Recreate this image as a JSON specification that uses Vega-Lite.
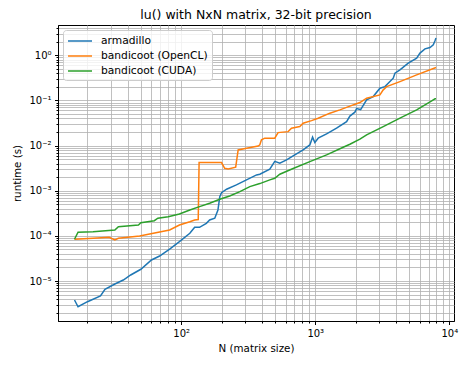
{
  "$schema": "https://vega.github.io/schema/vega-lite/v6.json",
  "autosize": "none",
  "width": 396,
  "height": 296,
  "padding": {"left": 58, "top": 25, "right": 12, "bottom": 44},
  "config": {
    "font": "DejaVu Sans",
    "view": {"stroke": "black", "strokeWidth": 1},
    "axis": {
      "domainColor": "black",
      "tickColor": "black",
      "labelColor": "black",
      "titleColor": "black",
      "labelFont": "DejaVu Sans",
      "titleFont": "DejaVu Sans",
      "labelFontSize": 10,
      "titleFontSize": 10.3,
      "titleFontWeight": "normal",
      "gridColor": "#b0b0b0",
      "gridWidth": 0.8,
      "gridOpacity": 1,
      "labelPadding": 3.5
    }
  },
  "title": {"text": "lu() with NxN matrix, 32-bit precision", "fontSize": 12.5, "fontWeight": "normal", "font": "DejaVu Sans", "color": "black", "offset": 2},
  "data": {"values": [
    {"s": "armadillo", "N": 16, "t": 3.79e-6},
    {"s": "armadillo", "N": 17, "t": 2.69e-6},
    {"s": "armadillo", "N": 20, "t": 3.48e-6},
    {"s": "armadillo", "N": 25, "t": 4.65e-6},
    {"s": "armadillo", "N": 27, "t": 6.55e-6},
    {"s": "armadillo", "N": 32, "t": 8.58e-6},
    {"s": "armadillo", "N": 37, "t": 1.05e-5},
    {"s": "armadillo", "N": 42, "t": 1.36e-5},
    {"s": "armadillo", "N": 50, "t": 1.82e-5},
    {"s": "armadillo", "N": 60, "t": 2.92e-5},
    {"s": "armadillo", "N": 69, "t": 3.58e-5},
    {"s": "armadillo", "N": 82, "t": 5.1e-5},
    {"s": "armadillo", "N": 97, "t": 7.44e-5},
    {"s": "armadillo", "N": 116, "t": 1.14e-4},
    {"s": "armadillo", "N": 126, "t": 1.55e-4},
    {"s": "armadillo", "N": 137, "t": 1.55e-4},
    {"s": "armadillo", "N": 154, "t": 1.9e-4},
    {"s": "armadillo", "N": 163, "t": 2.25e-4},
    {"s": "armadillo", "N": 178, "t": 2.46e-4},
    {"s": "armadillo", "N": 188, "t": 3.75e-4},
    {"s": "armadillo", "N": 194, "t": 7.4e-4},
    {"s": "armadillo", "N": 200, "t": 9.07e-4},
    {"s": "armadillo", "N": 218, "t": 1.08e-3},
    {"s": "armadillo", "N": 258, "t": 1.344e-3},
    {"s": "armadillo", "N": 307, "t": 1.74e-3},
    {"s": "armadillo", "N": 365, "t": 2.24e-3},
    {"s": "armadillo", "N": 386, "t": 2.32e-3},
    {"s": "armadillo", "N": 458, "t": 3.0e-3},
    {"s": "armadillo", "N": 499, "t": 4.48e-3},
    {"s": "armadillo", "N": 544, "t": 4.07e-3},
    {"s": "armadillo", "N": 611, "t": 4.82e-3},
    {"s": "armadillo", "N": 684, "t": 5.91e-3},
    {"s": "armadillo", "N": 812, "t": 8.03e-3},
    {"s": "armadillo", "N": 911, "t": 1.036e-2},
    {"s": "armadillo", "N": 955, "t": 1.536e-2},
    {"s": "armadillo", "N": 993, "t": 1.166e-2},
    {"s": "armadillo", "N": 1051, "t": 1.459e-2},
    {"s": "armadillo", "N": 1215, "t": 1.817e-2},
    {"s": "armadillo", "N": 1442, "t": 2.43e-2},
    {"s": "armadillo", "N": 1713, "t": 3.4e-2},
    {"s": "armadillo", "N": 1813, "t": 4.5e-2},
    {"s": "armadillo", "N": 1976, "t": 5.5e-2},
    {"s": "armadillo", "N": 2034, "t": 6.6e-2},
    {"s": "armadillo", "N": 2180, "t": 6.3e-2},
    {"s": "armadillo", "N": 2416, "t": 0.103},
    {"s": "armadillo", "N": 2706, "t": 0.122},
    {"s": "armadillo", "N": 3037, "t": 0.187},
    {"s": "armadillo", "N": 3310, "t": 0.203},
    {"s": "armadillo", "N": 3817, "t": 0.312},
    {"s": "armadillo", "N": 3931, "t": 0.403},
    {"s": "armadillo", "N": 4283, "t": 0.477},
    {"s": "armadillo", "N": 4940, "t": 0.672},
    {"s": "armadillo", "N": 5709, "t": 0.867},
    {"s": "armadillo", "N": 6042, "t": 1.12},
    {"s": "armadillo", "N": 6585, "t": 1.39},
    {"s": "armadillo", "N": 7178, "t": 1.49},
    {"s": "armadillo", "N": 7595, "t": 1.71},
    {"s": "armadillo", "N": 7820, "t": 2.1},
    {"s": "armadillo", "N": 7957, "t": 2.41},

    {"s": "bandicoot (OpenCL)", "N": 16, "t": 8.41e-5},
    {"s": "bandicoot (OpenCL)", "N": 22, "t": 8.85e-5},
    {"s": "bandicoot (OpenCL)", "N": 29, "t": 9.31e-5},
    {"s": "bandicoot (OpenCL)", "N": 32, "t": 8.11e-5},
    {"s": "bandicoot (OpenCL)", "N": 34, "t": 8.85e-5},
    {"s": "bandicoot (OpenCL)", "N": 49, "t": 9.95e-5},
    {"s": "bandicoot (OpenCL)", "N": 62, "t": 1.142e-4},
    {"s": "bandicoot (OpenCL)", "N": 82, "t": 1.351e-4},
    {"s": "bandicoot (OpenCL)", "N": 97, "t": 1.744e-4},
    {"s": "bandicoot (OpenCL)", "N": 116, "t": 2.06e-4},
    {"s": "bandicoot (OpenCL)", "N": 126, "t": 2.25e-4},
    {"s": "bandicoot (OpenCL)", "N": 134, "t": 2.3e-4},
    {"s": "bandicoot (OpenCL)", "N": 136, "t": 4.2e-3},
    {"s": "bandicoot (OpenCL)", "N": 200, "t": 4.2e-3},
    {"s": "bandicoot (OpenCL)", "N": 211, "t": 3.15e-3},
    {"s": "bandicoot (OpenCL)", "N": 224, "t": 3.04e-3},
    {"s": "bandicoot (OpenCL)", "N": 255, "t": 3.32e-3},
    {"s": "bandicoot (OpenCL)", "N": 266, "t": 8.03e-3},
    {"s": "bandicoot (OpenCL)", "N": 307, "t": 8.76e-3},
    {"s": "bandicoot (OpenCL)", "N": 375, "t": 9.8e-3},
    {"s": "bandicoot (OpenCL)", "N": 386, "t": 1.04e-2},
    {"s": "bandicoot (OpenCL)", "N": 397, "t": 1.34e-2},
    {"s": "bandicoot (OpenCL)", "N": 420, "t": 1.46e-2},
    {"s": "bandicoot (OpenCL)", "N": 499, "t": 1.46e-2},
    {"s": "bandicoot (OpenCL)", "N": 528, "t": 1.94e-2},
    {"s": "bandicoot (OpenCL)", "N": 628, "t": 2.04e-2},
    {"s": "bandicoot (OpenCL)", "N": 665, "t": 2.43e-2},
    {"s": "bandicoot (OpenCL)", "N": 767, "t": 2.64e-2},
    {"s": "bandicoot (OpenCL)", "N": 812, "t": 3.14e-2},
    {"s": "bandicoot (OpenCL)", "N": 938, "t": 3.58e-2},
    {"s": "bandicoot (OpenCL)", "N": 1051, "t": 4.05e-2},
    {"s": "bandicoot (OpenCL)", "N": 1285, "t": 5.23e-2},
    {"s": "bandicoot (OpenCL)", "N": 1526, "t": 6.19e-2},
    {"s": "bandicoot (OpenCL)", "N": 1813, "t": 7.5e-2},
    {"s": "bandicoot (OpenCL)", "N": 2153, "t": 8.98e-2},
    {"s": "bandicoot (OpenCL)", "N": 2416, "t": 0.1125},
    {"s": "bandicoot (OpenCL)", "N": 3037, "t": 0.133},
    {"s": "bandicoot (OpenCL)", "N": 3215, "t": 0.172},
    {"s": "bandicoot (OpenCL)", "N": 3409, "t": 0.203},
    {"s": "bandicoot (OpenCL)", "N": 4283, "t": 0.262},
    {"s": "bandicoot (OpenCL)", "N": 5709, "t": 0.369},
    {"s": "bandicoot (OpenCL)", "N": 7957, "t": 0.536},

    {"s": "bandicoot (CUDA)", "N": 16, "t": 8.41e-5},
    {"s": "bandicoot (CUDA)", "N": 17, "t": 1.202e-4},
    {"s": "bandicoot (CUDA)", "N": 22, "t": 1.239e-4},
    {"s": "bandicoot (CUDA)", "N": 32, "t": 1.351e-4},
    {"s": "bandicoot (CUDA)", "N": 34, "t": 1.6e-4},
    {"s": "bandicoot (CUDA)", "N": 48, "t": 1.744e-4},
    {"s": "bandicoot (CUDA)", "N": 50, "t": 1.96e-4},
    {"s": "bandicoot (CUDA)", "N": 63, "t": 2.17e-4},
    {"s": "bandicoot (CUDA)", "N": 67, "t": 2.46e-4},
    {"s": "bandicoot (CUDA)", "N": 80, "t": 2.66e-4},
    {"s": "bandicoot (CUDA)", "N": 97, "t": 3.06e-4},
    {"s": "bandicoot (CUDA)", "N": 116, "t": 3.75e-4},
    {"s": "bandicoot (CUDA)", "N": 137, "t": 4.44e-4},
    {"s": "bandicoot (CUDA)", "N": 163, "t": 5.28e-4},
    {"s": "bandicoot (CUDA)", "N": 194, "t": 6.48e-4},
    {"s": "bandicoot (CUDA)", "N": 230, "t": 7.67e-4},
    {"s": "bandicoot (CUDA)", "N": 274, "t": 9.55e-4},
    {"s": "bandicoot (CUDA)", "N": 325, "t": 1.233e-3},
    {"s": "bandicoot (CUDA)", "N": 386, "t": 1.44e-3},
    {"s": "bandicoot (CUDA)", "N": 458, "t": 1.74e-3},
    {"s": "bandicoot (CUDA)", "N": 499, "t": 1.89e-3},
    {"s": "bandicoot (CUDA)", "N": 544, "t": 2.32e-3},
    {"s": "bandicoot (CUDA)", "N": 684, "t": 3.1e-3},
    {"s": "bandicoot (CUDA)", "N": 911, "t": 4.42e-3},
    {"s": "bandicoot (CUDA)", "N": 1215, "t": 6.22e-3},
    {"s": "bandicoot (CUDA)", "N": 1616, "t": 9.2e-3},
    {"s": "bandicoot (CUDA)", "N": 1813, "t": 1.07e-2},
    {"s": "bandicoot (CUDA)", "N": 2153, "t": 1.387e-2},
    {"s": "bandicoot (CUDA)", "N": 2416, "t": 1.727e-2},
    {"s": "bandicoot (CUDA)", "N": 3215, "t": 2.64e-2},
    {"s": "bandicoot (CUDA)", "N": 4283, "t": 4.05e-2},
    {"s": "bandicoot (CUDA)", "N": 5709, "t": 6.19e-2},
    {"s": "bandicoot (CUDA)", "N": 7390, "t": 9.8e-2},
    {"s": "bandicoot (CUDA)", "N": 7820, "t": 0.1085},
    {"s": "bandicoot (CUDA)", "N": 7957, "t": 0.1085}
  ]},
  "mark": {"type": "line", "strokeWidth": 1.5, "clip": true},
  "encoding": {
    "x": {
      "field": "N", "type": "quantitative", "title": "N (matrix size)",
      "scale": {"type": "log", "domain": [12.05, 10840], "nice": false, "zero": false},
      "axis": {
        "values": [20,30,40,50,60,70,80,90,100,200,300,400,500,600,700,800,900,1000,2000,3000,4000,5000,6000,7000,8000,9000,10000],
        "labelExpr": "datum.value == 100 ? '10²' : datum.value == 1000 ? '10³' : datum.value == 10000 ? '10⁴' : ''",
        "tickSize": {"condition": {"test": "indexof([100,1000,10000], datum.value) >= 0", "value": 3.5}, "value": 2},
        "titlePadding": 5,
        "labelFlush": false,
        "labelOverlap": false
      }
    },
    "y": {
      "field": "t", "type": "quantitative", "title": "runtime (s)",
      "scale": {"type": "log", "domain": [1.3e-6, 4.7], "nice": false, "zero": false},
      "axis": {
        "values": [2e-6,3e-6,4e-6,5e-6,6e-6,7e-6,8e-6,9e-6,1e-5,2e-5,3e-5,4e-5,5e-5,6e-5,7e-5,8e-5,9e-5,1e-4,2e-4,3e-4,4e-4,5e-4,6e-4,7e-4,8e-4,9e-4,1e-3,2e-3,3e-3,4e-3,5e-3,6e-3,7e-3,8e-3,9e-3,1e-2,2e-2,3e-2,4e-2,5e-2,6e-2,7e-2,8e-2,9e-2,0.1,0.2,0.3,0.4,0.5,0.6,0.7,0.8,0.9,1,2,3,4],
        "labelExpr": "datum.value == 1 ? '10⁰' : datum.value == 0.1 ? '10⁻¹' : datum.value == 0.01 ? '10⁻²' : datum.value == 0.001 ? '10⁻³' : datum.value == 0.0001 ? '10⁻⁴' : datum.value == 0.00001 ? '10⁻⁵' : ''",
        "tickSize": {"condition": {"test": "indexof([1,0.1,0.01,0.001,0.0001,0.00001], datum.value) >= 0", "value": 3.5}, "value": 2},
        "titlePadding": 6,
        "labelFlush": false,
        "labelOverlap": false
      }
    },
    "color": {
      "field": "s", "type": "nominal", "title": null,
      "scale": {"domain": ["armadillo", "bandicoot (OpenCL)", "bandicoot (CUDA)"], "range": ["#1f77b4", "#ff7f0e", "#2ca02c"]},
      "sort": ["armadillo", "bandicoot (OpenCL)", "bandicoot (CUDA)"],
      "legend": {
        "orient": "top-left",
        "offset": 5,
        "padding": 4,
        "symbolType": "M-2,0L2,0",
        "symbolSize": 144,
        "symbolStrokeWidth": 1.5,
        "symbolOffset": 6,
        "labelFontSize": 10.7,
        "labelFont": "DejaVu Sans",
        "labelColor": "black",
        "labelOffset": 14,
        "rowPadding": 3,
        "strokeColor": "#cccccc",
        "fillColor": "rgba(255,255,255,0.8)",
        "cornerRadius": 3
      }
    }
  }
}
